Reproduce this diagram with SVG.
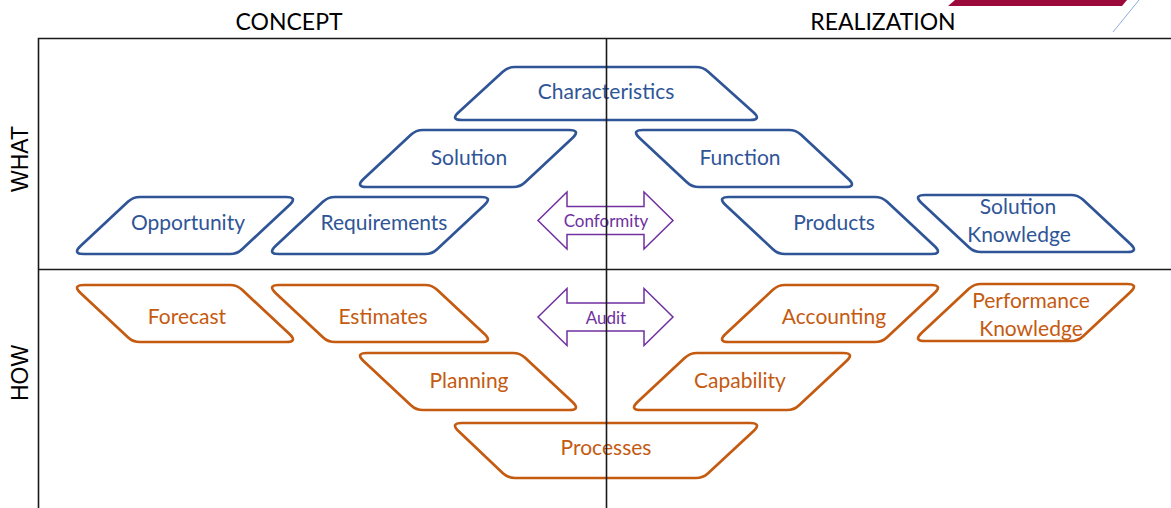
<svg xmlns="http://www.w3.org/2000/svg" width="1171" height="508" viewBox="0 0 1171 508">
<style>
.shape{fill:none;stroke-width:2.7;stroke-linejoin:round}
.blue{stroke:#2F5597}
.orange{stroke:#C55A11}
.lbl{font-family:Lato,"Open Sans","Noto Sans",sans-serif;font-size:21px;text-anchor:middle}
.tb{fill:#2F5597}
.to{fill:#C55A11}
.arrow{fill:none;stroke:#7030A0;stroke-width:1.5}
.al{font-family:Lato,"Open Sans","Noto Sans",sans-serif;font-size:17px;text-anchor:middle;fill:#7030A0}
.hdr{font-family:Lato,"Open Sans","Noto Sans",sans-serif;font-size:23px;text-anchor:middle;fill:#000}
.side{font-family:"Liberation Sans",Arial,sans-serif;font-size:23px;text-anchor:middle;fill:#000}
.grid{stroke:#1a1a1a;stroke-width:1.6;fill:none}
</style>
<defs>
<path id="pl" d="M12,57 L158,57 Q165,57 170.1,52.2 L217.2,8.2 Q226,0 214,0 L68,0 Q61,0 55.9,4.8 L8.8,48.8 Q0,57 12,57 Z"/>
<path id="dbl" d="M538,0 L567,-28.5 L567,-14 L644,-14 L644,-28.5 L673,0 L644,28.5 L644,14 L567,14 L567,28.5 Z"/>
</defs>

<g id="decor">
<polygon points="948,6 1122,6 1127,0 955,0" fill="#9B0A3A"/>
<line x1="1113" y1="32" x2="1139" y2="0" stroke="#8FAADC" stroke-width="1"/>
</g>

<g id="headers">
<text class="hdr" x="289" y="30">CONCEPT</text>
<text class="hdr" x="883" y="30">REALIZATION</text>
<text class="side" transform="translate(28,159) rotate(-90)">WHAT</text>
<text class="side" transform="translate(28,373) rotate(-90)">HOW</text>
</g>

<g id="n-characteristics">
<path class="shape blue" d="M462,120 L750,120 Q762,120 753.1,112 L708.2,71.7 Q703,67 696,67 L515,67 Q508,67 502.8,71.7 L458.9,112 Q450,120 462,120 Z"/>
<text class="lbl tb" x="606" y="99">Characteristics</text>
</g>
<g id="n-solution">
<use href="#pl" class="shape blue" transform="translate(355,130)"/>
<text class="lbl tb" x="469" y="165">Solution</text>
</g>
<g id="n-function">
<use href="#pl" class="shape blue" transform="translate(857,130) scale(-1,1)"/>
<text class="lbl tb" x="740" y="165">Function</text>
</g>
<g id="n-opportunity">
<use href="#pl" class="shape blue" transform="translate(72,197)"/>
<text class="lbl tb" x="188" y="230">Opportunity</text>
</g>
<g id="n-requirements">
<use href="#pl" class="shape blue" transform="translate(267,197)"/>
<text class="lbl tb" x="384" y="230">Requirements</text>
</g>
<g id="n-products">
<use href="#pl" class="shape blue" transform="translate(943,197) scale(-1,1)"/>
<text class="lbl tb" x="834" y="230">Products</text>
</g>
<g id="n-solution-knowledge">
<use href="#pl" class="shape blue" transform="translate(1139,195) scale(-1,1)"/>
<text class="lbl tb" x="1018" y="214">Solution</text>
<text class="lbl tb" x="1019" y="242">Knowledge</text>
</g>

<g id="n-forecast">
<use href="#pl" class="shape orange" transform="translate(298,285) scale(-1,1)"/>
<text class="lbl to" x="187" y="324">Forecast</text>
</g>
<g id="n-estimates">
<use href="#pl" class="shape orange" transform="translate(493,285) scale(-1,1)"/>
<text class="lbl to" x="383" y="324">Estimates</text>
</g>
<g id="n-accounting">
<use href="#pl" class="shape orange" transform="translate(717,285)"/>
<text class="lbl to" x="834" y="324">Accounting</text>
</g>
<g id="n-performance-knowledge">
<use href="#pl" class="shape orange" transform="translate(913,284)"/>
<text class="lbl to" x="1031" y="308">Performance</text>
<text class="lbl to" x="1031" y="336">Knowledge</text>
</g>
<g id="n-planning">
<use href="#pl" class="shape orange" transform="translate(581,353) scale(-1,1)"/>
<text class="lbl to" x="469" y="388">Planning</text>
</g>
<g id="n-capability">
<use href="#pl" class="shape orange" transform="translate(629,353)"/>
<text class="lbl to" x="740" y="388">Capability</text>
</g>
<g id="n-processes">
<path class="shape orange" d="M462,423 L750,423 Q762,423 753.3,431.3 L708.1,473.2 Q703,478 696,478 L515,478 Q508,478 502.9,473.2 L458.7,431.3 Q450,423 462,423 Z"/>
<text class="lbl to" x="606" y="455">Processes</text>
</g>

<g id="connectors">
<g id="c-conformity">
<use href="#dbl" class="arrow" transform="translate(0,220.5)"/>
<text class="al" x="606" y="227">Conformity</text>
</g>
<g id="c-audit">
<use href="#dbl" class="arrow" transform="translate(0,317)"/>
<text class="al" x="606" y="324">Audit</text>
</g>
</g>

<g id="grid">
<polyline class="grid" points="1171,38.5 38.5,38.5 38.5,508"/>
<line class="grid" x1="38.5" y1="269.5" x2="1171" y2="269.5"/>
<line class="grid" x1="606.5" y1="38.5" x2="606.5" y2="508"/>
</g>
</svg>
